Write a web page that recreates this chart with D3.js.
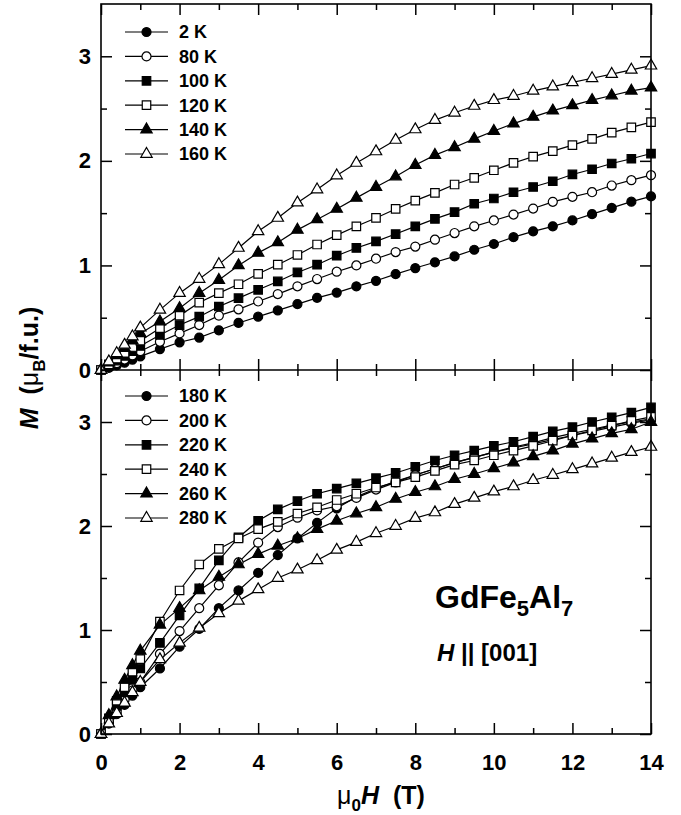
<!DOCTYPE html>
<html>
<head>
<meta charset="utf-8">
<script src="https://cdn.jsdelivr.net/npm/d3@7"></script>
<style>
  body { margin: 0; background: #fff; }
  svg text { font-family: Arial, "Liberation Sans", sans-serif; font-weight: bold; fill: #000; }
</style>
</head>
<body>
<div id="chart"></div>
<script>
// field values (T), same grid for every curve
const fieldT = [0, 0.2, 0.4, 0.6, 0.8, 1, 1.5, 2, 2.5, 3, 3.5, 4, 4.5, 5, 5.5, 6, 6.5, 7, 7.5, 8,
  8.5, 9, 9.5, 10, 10.5, 11, 11.5, 12, 12.5, 13, 13.5, 14];

// upper panel, M in muB/f.u.
const m2K   = [0, 0.02, 0.045, 0.07, 0.10, 0.13, 0.20, 0.265, 0.31, 0.38, 0.45, 0.51, 0.57, 0.63, 0.69, 0.74,
  0.80, 0.853, 0.917, 0.975, 1.03, 1.086, 1.15, 1.205, 1.27, 1.326, 1.374, 1.43, 1.49, 1.55, 1.61, 1.66];
const m80K  = [0, 0.03, 0.065, 0.10, 0.14, 0.18, 0.27, 0.35, 0.43, 0.52, 0.58, 0.655, 0.726, 0.80, 0.87, 0.94,
  1.0, 1.064, 1.128, 1.18, 1.246, 1.31, 1.374, 1.43, 1.486, 1.544, 1.608, 1.656, 1.70, 1.764, 1.815, 1.863];
const m100K = [0, 0.045, 0.09, 0.135, 0.18, 0.23, 0.335, 0.43, 0.51, 0.607, 0.687, 0.767, 0.847, 0.933, 1.007, 1.093,
  1.167, 1.23, 1.30, 1.374, 1.445, 1.51, 1.59, 1.64, 1.70, 1.75, 1.805, 1.87, 1.92, 1.975, 2.02, 2.07];
const m120K = [0, 0.055, 0.11, 0.165, 0.22, 0.28, 0.40, 0.52, 0.645, 0.735, 0.82, 0.92, 1.007, 1.10, 1.20, 1.29,
  1.374, 1.454, 1.54, 1.62, 1.694, 1.774, 1.838, 1.91, 1.98, 2.04, 2.093, 2.15, 2.21, 2.27, 2.32, 2.37];
const m140K = [0, 0.07, 0.14, 0.21, 0.28, 0.35, 0.463, 0.59, 0.735, 0.86, 1.0, 1.12, 1.22, 1.34, 1.44, 1.54,
  1.646, 1.75, 1.85, 1.96, 2.055, 2.13, 2.21, 2.285, 2.356, 2.42, 2.48, 2.53, 2.58, 2.625, 2.67, 2.70];
const m160K = [0, 0.08, 0.16, 0.24, 0.32, 0.405, 0.575, 0.735, 0.87, 1.01, 1.167, 1.326, 1.454, 1.60, 1.726, 1.86,
  1.98, 2.09, 2.20, 2.30, 2.39, 2.46, 2.525, 2.58, 2.62, 2.67, 2.71, 2.75, 2.79, 2.83, 2.87, 2.91];

// lower panel
const m180K = [0, 0.10, 0.19, 0.28, 0.37, 0.45, 0.63, 0.84, 1.01, 1.21, 1.38, 1.55, 1.72, 1.88, 2.03, 2.17,
  2.28, 2.36, 2.43, 2.49, 2.55, 2.61, 2.66, 2.71, 2.75, 2.79, 2.83, 2.87, 2.91, 2.95, 2.99, 3.02];
const m200K = [0, 0.11, 0.22, 0.33, 0.42, 0.50, 0.77, 0.99, 1.21, 1.43, 1.65, 1.84, 1.99, 2.08, 2.15, 2.19,
  2.27, 2.35, 2.42, 2.49, 2.55, 2.61, 2.66, 2.71, 2.76, 2.80, 2.85, 2.89, 2.93, 2.97, 3.00, 3.03];
const m220K = [0, 0.14, 0.27, 0.40, 0.52, 0.63, 0.876, 1.14, 1.40, 1.67, 1.89, 2.05, 2.16, 2.24, 2.31, 2.36,
  2.41, 2.46, 2.51, 2.57, 2.63, 2.68, 2.725, 2.77, 2.81, 2.86, 2.91, 2.95, 3.0, 3.045, 3.09, 3.14];
const m240K = [0, 0.15, 0.32, 0.45, 0.60, 0.72, 1.08, 1.38, 1.63, 1.78, 1.88, 1.97, 2.04, 2.12, 2.18, 2.25,
  2.31, 2.37, 2.42, 2.47, 2.53, 2.59, 2.63, 2.68, 2.725, 2.77, 2.82, 2.87, 2.92, 2.965, 3.01, 3.05];
const m260K = [0, 0.18, 0.36, 0.52, 0.66, 0.80, 1.05, 1.21, 1.38, 1.51, 1.63, 1.73, 1.81, 1.88, 1.97, 2.05,
  2.12, 2.18, 2.26, 2.325, 2.38, 2.45, 2.50, 2.555, 2.61, 2.67, 2.725, 2.79, 2.84, 2.89, 2.93, 3.0];
const m280K = [0, 0.10, 0.20, 0.30, 0.40, 0.50, 0.717, 0.876, 1.02, 1.16, 1.28, 1.39, 1.50, 1.58, 1.67, 1.77,
  1.845, 1.93, 2.0, 2.076, 2.13, 2.21, 2.27, 2.33, 2.38, 2.44, 2.49, 2.545, 2.60, 2.655, 2.71, 2.76];

const topLabels = ["2 K", "80 K", "100 K", "120 K", "140 K", "160 K"];
const bottomLabels = ["180 K", "200 K", "220 K", "240 K", "260 K", "280 K"];
const yTickValues = [0, 1, 2, 3];
const xTickValues = [0, 2, 4, 6, 8, 10, 12, 14];

// marker style cycles the same way in both panels
const markerStyles = [
  { shape: d3.symbolCircle, filled: true },
  { shape: d3.symbolCircle, filled: false },
  { shape: d3.symbolSquare, filled: true },
  { shape: d3.symbolSquare, filled: false },
  { shape: d3.symbolTriangle, filled: true },
  { shape: d3.symbolTriangle, filled: false }
];

const topSeries = [m2K, m80K, m100K, m120K, m140K, m160K].map((v, i) => ({ label: topLabels[i], values: v, ...markerStyles[i] }));
const bottomSeries = [m180K, m200K, m220K, m240K, m260K, m280K].map((v, i) => ({ label: bottomLabels[i], values: v, ...markerStyles[i] }));

const width = 681, height = 815;
const plot = { left: 101, right: 651, top: 4, mid: 370, bottom: 734 };
const fontStack = "Arial, 'Liberation Sans', sans-serif";

const svg = d3.select("#chart").append("svg")
  .attr("width", width)
  .attr("height", height);

const x = d3.scaleLinear().domain([0, 14]).range([plot.left, plot.right]);
const yTop = d3.scaleLinear().domain([0, 3.5]).range([plot.mid, plot.top]);
const yBot = d3.scaleLinear().domain([0, 3.5]).range([plot.bottom, plot.mid]);

const symbolSize = sh => sh === d3.symbolCircle ? 64 : sh === d3.symbolSquare ? 72 : 56;

function drawTicks(y, yTop0, yBottom0, showXLabels) {
  const majorLen = 11, minorLen = 6;

  // left axis with labels
  const left = svg.append("g").attr("transform", `translate(${plot.left},0)`)
    .call(d3.axisLeft(y).tickValues(yTickValues).tickSize(-majorLen).tickPadding(10).tickFormat(d3.format("d")));
  left.append("g").call(d3.axisLeft(y).tickValues([0.5, 1.5, 2.5]).tickSize(-minorLen).tickFormat(""));

  const right = svg.append("g").attr("transform", `translate(${plot.right},0)`)
    .call(d3.axisRight(y).tickValues(yTickValues).tickSize(-majorLen).tickFormat(""));
  right.append("g").call(d3.axisRight(y).tickValues([0.5, 1.5, 2.5]).tickSize(-minorLen).tickFormat(""));

  const minorX = d3.range(1, 14, 2);
  const topAx = svg.append("g").attr("transform", `translate(0,${yTop0})`)
    .call(d3.axisTop(x).tickValues(xTickValues).tickSize(-majorLen).tickFormat(""));
  topAx.append("g").call(d3.axisTop(x).tickValues(minorX).tickSize(-minorLen).tickFormat(""));

  const botAx = svg.append("g").attr("transform", `translate(0,${yBottom0})`)
    .call(d3.axisBottom(x).tickValues(xTickValues).tickSize(-majorLen).tickPadding(20)
      .tickFormat(showXLabels ? d3.format("d") : ""));
  botAx.append("g").call(d3.axisBottom(x).tickValues(minorX).tickSize(-minorLen).tickFormat(""));

  svg.selectAll(".domain").remove();
  svg.selectAll(".tick line").attr("stroke", "#000").attr("stroke-width", 1.5);
  left.selectAll(".tick text").style("font-size", "22px").style("font-family", fontStack).style("font-weight", "bold");
  botAx.selectAll(".tick text").style("font-size", "22px").style("font-family", fontStack).style("font-weight", "bold");
}

function drawSeries(y, series) {
  const line = d3.line().x((d, i) => x(fieldT[i])).y(d => y(d));
  const g = svg.append("g");
  series.forEach(s => {
    g.append("path")
      .attr("d", line(s.values))
      .attr("fill", "none")
      .attr("stroke", "#000")
      .attr("stroke-width", 1.2);
  });
  series.forEach(s => {
    g.append("g").selectAll("path")
      .data(s.values)
      .join("path")
      .attr("transform", (d, i) => `translate(${x(fieldT[i])},${y(d)})`)
      .attr("d", d3.symbol().type(s.shape).size(symbolSize(s.shape)))
      .attr("fill", s.filled ? "#000" : "#fff")
      .attr("stroke", "#000")
      .attr("stroke-width", 1.2);
  });
}

function drawLegend(series, y0) {
  const rowH = 24.4;
  const g = svg.append("g");
  series.forEach((s, i) => {
    const yy = y0 + i * rowH;
    g.append("line")
      .attr("x1", 125).attr("x2", 168)
      .attr("y1", yy).attr("y2", yy)
      .attr("stroke", "#000").attr("stroke-width", 1.2);
    g.append("path")
      .attr("transform", `translate(146.5,${yy})`)
      .attr("d", d3.symbol().type(s.shape).size(symbolSize(s.shape)))
      .attr("fill", s.filled ? "#000" : "#fff")
      .attr("stroke", "#000").attr("stroke-width", 1.2);
    g.append("text")
      .attr("x", 179).attr("y", yy)
      .attr("dy", "0.36em")
      .style("font-size", "18px")
      .text(s.label);
  });
}

drawSeries(yTop, topSeries);
drawSeries(yBot, bottomSeries);
drawTicks(yTop, plot.top, plot.mid, false);
drawTicks(yBot, plot.mid, plot.bottom, true);
drawLegend(topSeries, 32);
drawLegend(bottomSeries, 396);

// frame
svg.append("rect")
  .attr("x", plot.left).attr("y", plot.top)
  .attr("width", plot.right - plot.left).attr("height", plot.bottom - plot.top)
  .attr("fill", "none").attr("stroke", "#000").attr("stroke-width", 1.6);
svg.append("line")
  .attr("x1", plot.left).attr("x2", plot.right)
  .attr("y1", plot.mid).attr("y2", plot.mid)
  .attr("stroke", "#000").attr("stroke-width", 1.6);

// axis titles
const xTitle = svg.append("text")
  .attr("x", 381).attr("y", 804)
  .attr("text-anchor", "middle")
  .style("font-size", "25px");
xTitle.append("tspan").style("font-weight", "normal").text("\u03bc");
xTitle.append("tspan").attr("dy", 7).style("font-size", "17px").text("0");
xTitle.append("tspan").attr("dy", -7).style("font-style", "italic").text("H");
xTitle.append("tspan").text("\u00a0 (T)");

const yTitle = svg.append("text")
  .attr("transform", "translate(38,368) rotate(-90)")
  .attr("text-anchor", "middle")
  .style("font-size", "25px");
yTitle.append("tspan").style("font-style", "italic").text("M");
yTitle.append("tspan").text("\u00a0 (");
yTitle.append("tspan").style("font-weight", "normal").text("\u03bc");
yTitle.append("tspan").attr("dy", 7).style("font-size", "17px").text("B");
yTitle.append("tspan").attr("dy", -7).text("/f.u.)");

// sample annotation
const comp = svg.append("text")
  .attr("x", 435).attr("y", 608)
  .style("font-size", "32px");
comp.append("tspan").text("GdFe");
comp.append("tspan").attr("dy", 8).style("font-size", "22px").text("5");
comp.append("tspan").attr("dy", -8).text("Al");
comp.append("tspan").attr("dy", 8).style("font-size", "22px").text("7");

const dir = svg.append("text")
  .attr("x", 437).attr("y", 661)
  .style("font-size", "24px");
dir.append("tspan").style("font-style", "italic").text("H");
dir.append("tspan").text(" || [001]");
</script>
</body>
</html>
